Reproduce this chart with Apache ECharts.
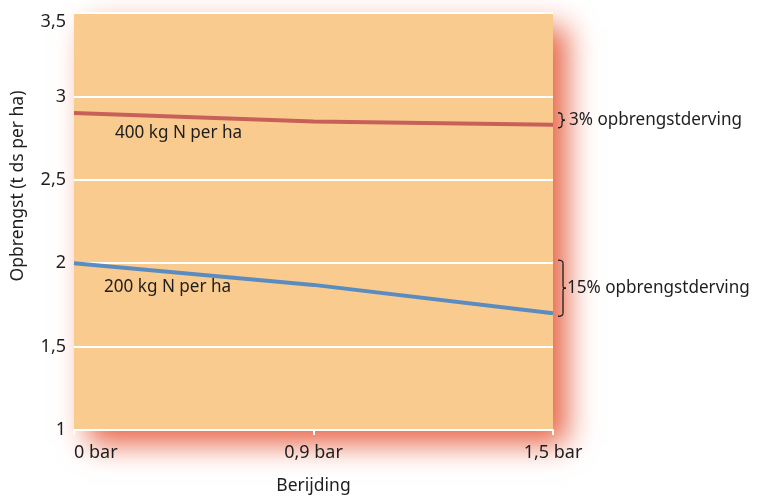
<!DOCTYPE html>
<html>
<head>
<meta charset="utf-8">
<script src="https://cdn.jsdelivr.net/npm/echarts@6/dist/echarts.min.js"></script>
<style>
  html, body { margin: 0; padding: 0; background: #fff; }
  #chart { width: 757px; height: 497px; }
</style>
</head>
<body>
<div id="chart"></div>
<script>
// data
var categories = ["0 bar", "0,9 bar", "1,5 bar"];
var kg400 = [2.9, 2.85, 2.83];
var kg200 = [2.0, 1.87, 1.7];
var yTicks = [1, 1.5, 2, 2.5, 3, 3.5];

var FONT = "Noto Sans";
var INK = "#1e1e1e";

var chart = echarts.init(document.getElementById("chart"));
var options = {
  animation: false,
  textStyle: { fontFamily: FONT },
  grid: {
    left: 74,
    right: 204,
    top: 13,
    bottom: 67,
    outerBoundsMode: "none",
    containLabel: false,
    show: true,
    backgroundColor: "#FACB8F",
    borderWidth: 0,
    shadowColor: "rgba(232,100,70,1)",
    shadowBlur: 28,
    shadowOffsetX: 14,
    shadowOffsetY: 14
  },
  xAxis: {
    type: "category",
    data: categories,
    boundaryGap: false,
    name: "Berijding",
    nameLocation: "middle",
    nameGap: 47,
    nameTextStyle: { fontSize: 17.5, color: INK },
    axisLine: { lineStyle: { color: "#fff", width: 2 } },
    axisTick: { show: true, length: 5, lineStyle: { color: "#fff", width: 2 } },
    axisLabel: {
      fontSize: 18,
      color: INK,
      margin: 14,
      alignMinLabel: "left"
    },
    splitLine: { show: false }
  },
  yAxis: {
    type: "value",
    min: yTicks[0],
    max: yTicks[yTicks.length - 1],
    interval: 0.5,
    axisLine: { show: false },
    axisTick: { show: false },
    axisLabel: {
      fontSize: 18,
      color: INK,
      margin: 8,
      verticalAlignMaxLabel: "top",
      formatter: function (v) { return String(v).replace(".", ","); }
    },
    splitLine: { lineStyle: { color: "#fff", width: 2 } }
  },
  series: [
    {
      name: "400 kg N per ha",
      type: "line",
      data: kg400,
      symbol: "none",
      lineStyle: { color: "#C8605A", width: 4 },
      z: 3
    },
    {
      name: "200 kg N per ha",
      type: "line",
      data: kg200,
      symbol: "none",
      lineStyle: { color: "#5B8CC0", width: 4 },
      z: 3
    }
  ]
};
chart.setOption(options);

// annotations, placed from data coordinates
function px(i, v) { return chart.convertToPixel({ gridIndex: 0 }, [i, v]); }
var last = categories.length - 1;
var r0 = px(last, kg400[last]);
var b0 = px(last, kg200[0]);
var b1 = px(last, kg200[last]);
var bx = r0[0] + 5;

// curly brace built from simple graphic pieces
function brace(x, y1, y2, w) {
  var m = (y1 + y2) / 2;
  var st = { stroke: INK, lineWidth: 1.3, fill: null };
  return {
    type: "group",
    children: [
      { type: "bezierCurve", shape: { x1: x, y1: y1, cpx1: x + w, cpy1: y1, x2: x + w, y2: y1 + 3 }, style: st },
      { type: "line", shape: { x1: x + w, y1: y1 + 3, x2: x + w, y2: m - 2 }, style: st },
      { type: "bezierCurve", shape: { x1: x + w, y1: m - 2, cpx1: x + w, cpy1: m, x2: x + w + 3, y2: m }, style: st },
      { type: "bezierCurve", shape: { x1: x + w + 3, y1: m, cpx1: x + w, cpy1: m, x2: x + w, y2: m + 2 }, style: st },
      { type: "line", shape: { x1: x + w, y1: m + 2, x2: x + w, y2: y2 - 3 }, style: st },
      { type: "bezierCurve", shape: { x1: x + w, y1: y2 - 3, cpx1: x + w, cpy1: y2, x2: x, y2: y2 }, style: st }
    ]
  };
}

function label(txt, x, y) {
  return {
    type: "text", x: x, y: y, scaleX: 0.95,
    style: { text: txt, font: "18px " + FONT, fill: INK, verticalAlign: "middle" }
  };
}

var r3 = (r0[1] - 12 + r0[1] + 3) / 2;
chart.setOption({
  graphic: [
    {
      type: "text", x: 18, y: 186, rotation: Math.PI / 2,
      style: { text: "Opbrengst (t ds per ha)", font: "17.5px " + FONT, fill: INK, align: "center", verticalAlign: "middle" }
    },
    label("400 kg N per ha", 115, 133),
    label("200 kg N per ha", 104, 287),
    brace(bx, r0[1] - 12, r0[1] + 3, 4),
    label("3% opbrengstderving", bx + 11, r3),
    brace(bx, b0[1] - 3, b1[1] + 3, 5),
    label("15% opbrengstderving", bx + 9, (b0[1] + b1[1]) / 2)
  ]
});
</script>
</body>
</html>
